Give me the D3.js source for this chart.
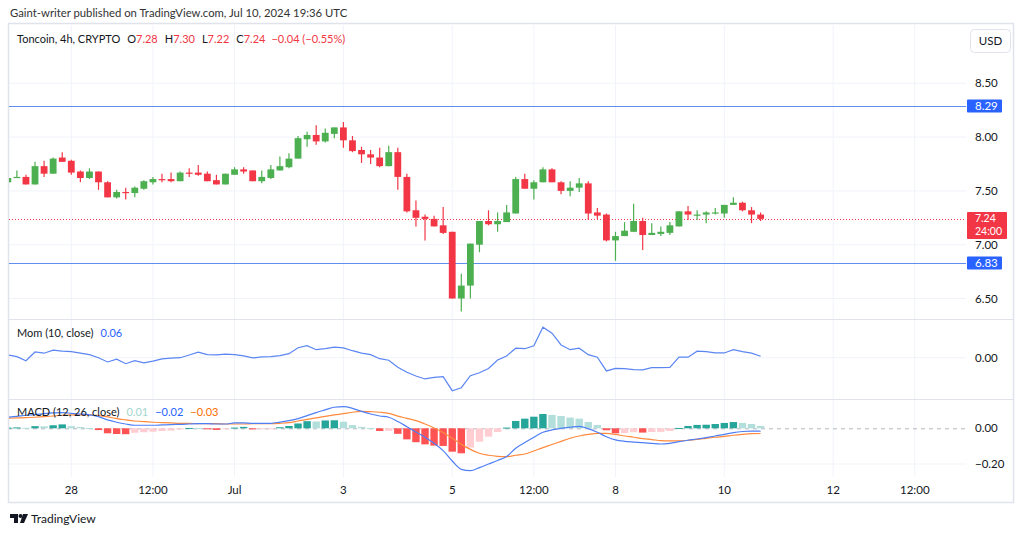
<!DOCTYPE html>
<html><head><meta charset="utf-8">
<script src="https://cdn.jsdelivr.net/npm/d3@7"></script>
<style>
html,body{margin:0;padding:0;background:#fff;}
svg{display:block;font-family:Lato,"Noto Sans",sans-serif;}
</style></head><body>
<svg id="c" width="1024" height="536"></svg>
<script>
// ---- data (4h candles, first at 2024-06-26 20:00 UTC) ----
const startTime = Date.UTC(2024,5,26,20);
const opens  = [7.58,7.62,7.63,7.56,7.73,7.66,7.81, 7.78,7.68,7.62,7.68,7.58,7.44,7.49,7.48,7.52,7.58, 7.61,7.61,7.59,7.67,7.67,7.66,7.60,7.56,7.65,7.70, 7.69,7.59,7.62,7.69,7.72,7.80,7.98,8.02,7.96,8.03, 8.09,7.97,7.88,7.84,7.81,7.73,7.86,7.63,7.32,7.26, 7.24,7.18,7.12,6.50,6.62,7.00,7.22,7.19,7.21,7.29, 7.61,7.52,7.58,7.70,7.58,7.50,7.53,7.57,7.30,7.28, 7.04,7.08,7.12,7.22,7.09,7.10,7.11,7.17,7.31,7.27, 7.28,7.29,7.29,7.37,7.39,7.32,7.28];
const highs  = [7.63,7.69,7.65,7.77,7.78,7.81,7.86, 7.79,7.69,7.71,7.68,7.59,7.51,7.53,7.54,7.60,7.63, 7.66,7.67,7.68,7.71,7.74,7.68,7.65,7.66,7.72,7.72, 7.69,7.69,7.74,7.82,7.85,8.01,8.05,8.11,8.08,8.09, 8.14,8.01,7.91,7.88,7.90,7.92,7.90,7.66,7.41,7.28, 7.27,7.35,7.12,6.73,7.01,7.22,7.32,7.30,7.37,7.63, 7.66,7.60,7.72,7.71,7.59,7.59,7.62,7.59,7.34,7.29, 7.12,7.21,7.38,7.25,7.20,7.17,7.21,7.31,7.36,7.32, 7.31,7.34,7.37,7.44,7.40,7.35,7.30];
const lows   = [7.57,7.62,7.56,7.56,7.63,7.66,7.77, 7.65,7.58,7.61,7.51,7.44,7.43,7.42,7.44,7.51,7.56, 7.58,7.58,7.59,7.63,7.64,7.59,7.56,7.56,7.65,7.66, 7.59,7.57,7.61,7.69,7.71,7.80,7.91,7.93,7.95,7.99, 7.90,7.86,7.76,7.75,7.72,7.73,7.51,7.30,7.17,7.04, 7.17,7.10,6.50,6.38,6.50,6.93,7.18,7.12,7.21,7.29, 7.52,7.42,7.58,7.58,7.47,7.45,7.49,7.23,7.24,7.03, 6.85,7.08,7.12,6.95,7.09,7.08,7.09,7.17,7.23,7.23, 7.20,7.28,7.25,7.37,7.31,7.20,7.22];
const closes = [7.62,7.63,7.56,7.73,7.66,7.80,7.77, 7.67,7.62,7.68,7.58,7.44,7.49,7.48,7.53,7.59,7.61, 7.60,7.59,7.67,7.66,7.65,7.59,7.56,7.66,7.70,7.68, 7.59,7.63,7.70,7.73,7.80,7.99,8.02,7.96,8.04,8.09, 7.97,7.87,7.84,7.81,7.73,7.86,7.63,7.31,7.25,7.24, 7.17,7.11,6.50,6.62,7.01,7.22,7.19,7.22,7.30,7.61, 7.52,7.58,7.70,7.58,7.50,7.53,7.57,7.29,7.27,7.04, 7.08,7.13,7.22,7.09,7.11,7.12,7.18,7.31,7.28,7.28, 7.30,7.30,7.37,7.39,7.32,7.28,7.24];
const momValues = [0.11,0.04,-0.12,0.23,0.18,0.30,0.26, 0.24,0.18,0.12,0.00,-0.17,-0.06,-0.24,-0.12,-0.21,-0.14, -0.05,-0.02,0.00,0.11,0.22,0.12,0.11,0.14,0.12,0.07, -0.01,0.03,0.04,0.08,0.16,0.40,0.48,0.32,0.36,0.42, 0.39,0.28,0.18,0.12,-0.04,-0.10,-0.38,-0.58,-0.73,-0.85, -0.79,-0.76,-1.32,-1.20,-0.72,-0.60,-0.43,-0.09,0.07,0.38, 0.36,0.48,1.22,0.98,0.51,0.32,0.38,0.12,0.02,-0.53, -0.43,-0.44,-0.48,-0.49,-0.40,-0.40,-0.39,0.02,0.02,0.26, 0.24,0.19,0.19,0.32,0.24,0.18,0.06];
const macdValues = [0.062,0.067,0.073,0.077,0.082,0.086,0.088, 0.084,0.080,0.075,0.065,0.047,0.034,0.024,0.017,0.017,0.017, 0.019,0.021,0.022,0.024,0.026,0.026,0.024,0.024,0.030,0.030, 0.028,0.028,0.028,0.035,0.043,0.054,0.071,0.088,0.103,0.118, 0.121,0.112,0.095,0.080,0.069,0.062,0.038,0.009,-0.021,-0.050, -0.084,-0.125,-0.183,-0.230,-0.237,-0.220,-0.200,-0.180,-0.158,-0.112, -0.080,-0.050,-0.022,-0.009,0.000,0.006,0.011,-0.002,-0.022,-0.047, -0.065,-0.073,-0.077,-0.080,-0.084,-0.088,-0.084,-0.075,-0.067,-0.060, -0.052,-0.043,-0.034,-0.024,-0.018,-0.016,-0.016];
const signalValues = [0.056,0.058,0.060,0.062,0.065,0.069,0.073, 0.075,0.075,0.075,0.071,0.064,0.054,0.047,0.041,0.037,0.034, 0.032,0.030,0.028,0.028,0.026,0.026,0.026,0.024,0.024,0.024, 0.026,0.026,0.026,0.028,0.032,0.041,0.050,0.058,0.067,0.075, 0.082,0.090,0.095,0.093,0.090,0.084,0.068,0.056,0.043,0.024, 0.002,-0.024,-0.056,-0.090,-0.118,-0.140,-0.151,-0.157,-0.159,-0.151, -0.144,-0.127,-0.108,-0.091,-0.073,-0.056,-0.043,-0.034,-0.028,-0.028, -0.034,-0.043,-0.050,-0.058,-0.063,-0.069,-0.071,-0.071,-0.067,-0.062, -0.056,-0.050,-0.045,-0.039,-0.034,-0.030,-0.029];
const histValues = [0.004,0.005,0.003,0.012,0.011,0.017,0.022, 0.012,0.007,0.002,-0.010,-0.028,-0.032,-0.033,-0.025,-0.022,-0.019, -0.015,-0.013,-0.006,0.002,0.002,-0.002,-0.009,-0.003,0.004,0.008, -0.006,-0.003,-0.002,0.006,0.013,0.027,0.040,0.038,0.044,0.045, 0.037,0.018,0.008,0.002,-0.015,-0.014,-0.031,-0.062,-0.078,-0.090, -0.097,-0.099,-0.131,-0.140,-0.108,-0.075,-0.047,-0.021,0.004,0.041, 0.054,0.065,0.080,0.075,0.069,0.060,0.054,0.035,0.019,-0.011, -0.028,-0.027,-0.022,-0.024,-0.021,-0.020,-0.015,0.002,0.013,0.019, 0.020,0.024,0.030,0.035,0.030,0.024,0.013];
const priceTicks = [6.5,7.0,7.5,8.0,8.5];
const levelLines = [8.29, 6.83];
const lastPrice = 7.24;
const timeTickDates = [Date.UTC(2024,5,28,0),Date.UTC(2024,5,29,12),Date.UTC(2024,6,1,0),Date.UTC(2024,6,3,0),Date.UTC(2024,6,5,0),Date.UTC(2024,6,6,12),Date.UTC(2024,6,8,0),Date.UTC(2024,6,10,0),Date.UTC(2024,6,12,0),Date.UTC(2024,6,13,12)];
const timeTickLabels = ["28","12:00","Jul","3","5","12:00","8","10","12","12:00"];

// ---- build ----
const H4 = 4*3600*1000;
const data = opens.map((o,i)=>({t:new Date(startTime+i*H4),o,h:highs[i],l:lows[i],c:closes[i],
  mom:momValues[i],macd:macdValues[i],sig:signalValues[i],hist:histValues[i]}));

const svg = d3.select("#c");
const L = 9, R = 966, TOP = 25;
const x = d3.scaleTime().domain([new Date(Date.UTC(2024,5,28,0)), new Date(Date.UTC(2024,6,10,16))]).range([71.3, 760.6]);
const y = d3.scaleLinear().domain([6.5,8.5]).range([298.5,83.3]);
const yMom = d3.scaleLinear().domain([0,1]).range([357.7,332.7]);
const yMacd = d3.scaleLinear().domain([-0.2,0]).range([464,428.3]);

const UP="#4caf50", DN="#f23645", GRID="#f0f3fa", TXT="#131722";

svg.append("rect").attr("width",1024).attr("height",536).attr("fill","#fff");
svg.append("text").attr("x",10).attr("y",17).attr("font-size",11.3).attr("fill","#333").text("Gaint-writer published on TradingView.com, Jul 10, 2024 19:36 UTC");

svg.append("defs").append("clipPath").attr("id","clip").append("rect").attr("x",L).attr("y",TOP).attr("width",R-L).attr("height",452);

// gridlines
const g = svg.append("g");
g.selectAll(".vg").data(timeTickDates).join("line").attr("x1",d=>x(d)).attr("x2",d=>x(d)).attr("y1",TOP).attr("y2",477).attr("stroke",GRID);
g.selectAll(".hg").data(priceTicks).join("line").attr("x1",L).attr("x2",R).attr("y1",d=>y(d)).attr("y2",d=>y(d)).attr("stroke",GRID);
g.append("line").attr("x1",L).attr("x2",R).attr("y1",yMom(0)).attr("y2",yMom(0)).attr("stroke",GRID);
g.append("line").attr("x1",L).attr("x2",R).attr("y1",yMacd(-0.2)).attr("y2",yMacd(-0.2)).attr("stroke",GRID);
g.append("line").attr("x1",L).attr("x2",R).attr("y1",yMacd(0)+0.5).attr("y2",yMacd(0)+0.5).attr("stroke","#b2b5be").attr("stroke-dasharray","4,4");

// pane separators + border
svg.append("line").attr("x1",8).attr("x2",1013).attr("y1",319.5).attr("y2",319.5).attr("stroke","#e0e3eb");
svg.append("line").attr("x1",8).attr("x2",1013).attr("y1",399.5).attr("y2",399.5).attr("stroke","#e0e3eb");
svg.append("rect").attr("x",8.5).attr("y",23.5).attr("width",1005).attr("height",479).attr("fill","none").attr("stroke","#e0e3eb").attr("stroke-width",1.5);

const plot = svg.append("g").attr("clip-path","url(#clip)");

// level lines
plot.selectAll(".lvl").data(levelLines).join("line").attr("x1",L).attr("x2",R).attr("y1",d=>Math.round(y(d))+0.5).attr("y2",d=>Math.round(y(d))+0.5).attr("stroke","#5d8ef0").attr("stroke-width",1.2);
// last price dotted
plot.append("line").attr("x1",L).attr("x2",R).attr("y1",Math.round(y(lastPrice))+0.5).attr("y2",Math.round(y(lastPrice))+0.5).attr("stroke",DN).attr("stroke-dasharray","1,2");

// candles
const bw = 6.8;
const cg = plot.selectAll(".cd").data(data).join("g");
cg.append("line").attr("x1",d=>x(d.t)).attr("x2",d=>x(d.t)).attr("y1",d=>y(d.h)).attr("y2",d=>y(d.l)).attr("stroke",d=>d.c>=d.o?UP:DN).attr("stroke-width",1.2);
cg.append("rect").attr("x",d=>x(d.t)-bw/2).attr("width",bw).attr("y",d=>y(Math.max(d.o,d.c))).attr("height",d=>Math.max(1.2,Math.abs(y(d.o)-y(d.c)))).attr("fill",d=>d.c>=d.o?UP:DN);

// momentum line
plot.append("path").datum(data).attr("fill","none").attr("stroke","#5b86f2").attr("stroke-width",1.2)
 .attr("d",d3.line().x(d=>x(d.t)).y(d=>yMom(d.mom)));

// MACD histogram
const hc = (d,i)=>{const p=i>0?data[i-1].hist:d.hist-0.001; return d.hist>=0?(d.hist>p?"#26a69a":"#b2dfdb"):(d.hist<p?"#ff5252":"#ffcdd2");};
plot.selectAll(".hb").data(data).join("rect").attr("x",d=>x(d.t)-3.7).attr("width",7.4)
 .attr("y",d=>Math.min(yMacd(d.hist),yMacd(0))).attr("height",d=>Math.max(1,Math.abs(yMacd(d.hist)-yMacd(0)))).attr("fill",hc);
plot.append("path").datum(data).attr("fill","none").attr("stroke","#ff8a3d").attr("stroke-width",1.2).attr("d",d3.line().curve(d3.curveMonotoneX).x(d=>x(d.t)).y(d=>yMacd(d.sig)));
plot.append("path").datum(data).attr("fill","none").attr("stroke","#4f7ff5").attr("stroke-width",1.2).attr("d",d3.line().curve(d3.curveMonotoneX).x(d=>x(d.t)).y(d=>yMacd(d.macd)));

// price axis labels
const ax = svg.append("g").attr("font-size",11.5).attr("fill",TXT);
ax.selectAll(".pl").data(priceTicks).join("text").attr("x",975).attr("y",d=>y(d)+4).text(d=>d.toFixed(2));
ax.append("text").attr("x",975).attr("y",yMom(0)+4).text("0.00");
ax.append("text").attr("x",975).attr("y",yMacd(0)+4).text("0.00");
ax.append("text").attr("x",975).attr("y",yMacd(-0.2)+4).text("\u22120.20");
// level label boxes
levelLines.forEach(v=>{
  const yy=y(v);
  svg.append("rect").attr("x",967).attr("y",yy-6.5).attr("width",35).attr("height",13).attr("fill","#2962ff").attr("rx",1);
  svg.append("text").attr("x",975).attr("y",yy+4).attr("font-size",11.5).attr("fill","#fff").text(v.toFixed(2));
});
{
  const yy=y(lastPrice);
  svg.append("rect").attr("x",967).attr("y",yy-7).attr("width",40).attr("height",27).attr("fill",DN).attr("rx",1);
  svg.append("text").attr("x",975).attr("y",yy+3.5).attr("font-size",10.5).attr("fill","#fff").text(lastPrice.toFixed(2));
  svg.append("text").attr("x",975).attr("y",yy+16.5).attr("font-size",10.5).attr("fill","#fff").text("24:00");
}
// USD button
svg.append("rect").attr("x",970.5).attr("y",29.5).attr("width",40).attr("height",23).attr("rx",4).attr("fill","#fff").attr("stroke","#e0e3eb");
svg.append("text").attr("x",990.5).attr("y",45).attr("text-anchor","middle").attr("font-size",11.5).attr("fill",TXT).text("USD");

// time axis
svg.append("g").attr("font-size",11.5).attr("fill",TXT).selectAll("text").data(timeTickDates).join("text")
 .attr("x",d=>x(d)).attr("y",494).attr("text-anchor","middle").text((d,i)=>timeTickLabels[i]);

// legends
const lg = svg.append("text").attr("x",17).attr("y",43).attr("font-size",11).attr("fill",TXT);
lg.append("tspan").text("Toncoin, 4h, CRYPTO");
[["O","7.28"],["H","7.30"],["L","7.22"],["C","7.24"]].forEach(([k,v])=>{
  lg.append("tspan").attr("dx",7).text(k); lg.append("tspan").attr("fill",DN).text(v);
});
lg.append("tspan").attr("dx",6).attr("fill",DN).text("\u22120.04 (\u22120.55%)");

const ml = svg.append("text").attr("x",17).attr("y",337).attr("font-size",11).attr("fill",TXT);
ml.append("tspan").text("Mom (10, close)");
ml.append("tspan").attr("dx",7).attr("fill","#2962ff").text("0.06");

const mc = svg.append("text").attr("x",17).attr("y",416).attr("font-size",11).attr("fill",TXT);
mc.append("tspan").text("MACD (12, 26, close)");
mc.append("tspan").attr("dx",7).attr("fill","#a5d6cf").text("0.01");
mc.append("tspan").attr("dx",7).attr("fill","#2962ff").text("\u22120.02");
mc.append("tspan").attr("dx",7).attr("fill","#ff6d00").text("\u22120.03");

// footer logo
const lgG = svg.append("g").attr("fill","#131722");
lgG.append("path").attr("d","M10 514 h8 v9 h-4 v-5 h-4 z");
lgG.append("circle").attr("cx",20.5).attr("cy",516).attr("r",2);
lgG.append("path").attr("d","M23 514 h5 l-4 9 h-4 z");
svg.append("text").attr("x",31).attr("y",523).attr("font-size",12).attr("fill","#131722").text("TradingView");
</script>
</body></html>
